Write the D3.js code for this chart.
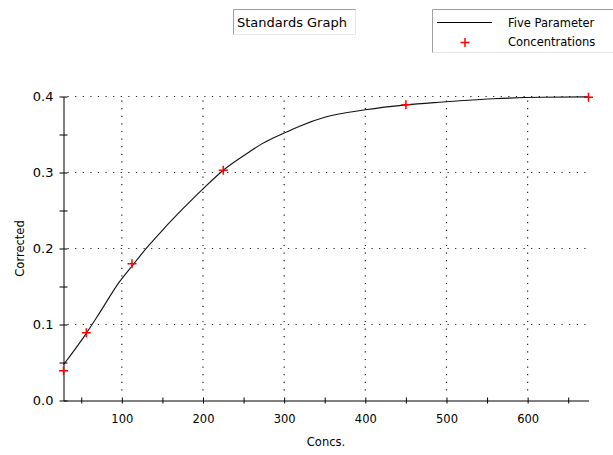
<!DOCTYPE html>
<html>
<head>
<meta charset="utf-8">
<script src="https://cdn.jsdelivr.net/npm/d3@7"></script>
<style>
  body { margin: 0; background: #fff; }
  svg text { font-family: "DejaVu Sans", Verdana, sans-serif; font-size: 11.5px; fill: #000; }
</style>
</head>
<body>
<div id="chart"></div>
<script>
// standards (measured points)
const concs = [28.125, 56.25, 112.5, 225, 450, 675];
const corrected = [0.039, 0.089, 0.180, 0.303, 0.389, 0.399];

// five parameter fit
const fitConcs = [28.125, 56, 73, 97, 112.5, 134, 150, 175, 200, 225, 257, 273, 300, 319, 351, 400, 450, 491, 521, 558, 617, 675];
const fitValues = [0.047, 0.088, 0.116, 0.156, 0.177, 0.205, 0.224, 0.252, 0.2785, 0.303, 0.327, 0.338, 0.352, 0.361, 0.373, 0.3825, 0.389, 0.3925, 0.3947, 0.397, 0.399, 0.3995];

const xMajor = [100, 200, 300, 400, 500, 600];
const xMinor = [50, 100, 150, 200, 250, 300, 350, 400, 450, 500, 550, 600, 650];
const yMajor = [0.0, 0.1, 0.2, 0.3, 0.4];
const yMinor = [0.05, 0.1, 0.15, 0.2, 0.25, 0.3, 0.35, 0.4];

const width = 613, height = 455;
const svg = d3.select("#chart").append("svg")
    .attr("width", width)
    .attr("height", height);

let x = d3.scaleLinear().domain([28.125, 675]).range([63.5, 588.5]);
let y = d3.scaleLinear().domain([0, 0.4]).range([400.5, 96.5]);

// dotted grid
let grid = svg.append("g").attr("stroke", "#222").attr("stroke-width", 1.2)
    .attr("stroke-dasharray", "1.2,6.4");
grid.selectAll("line.h").data(yMajor.slice(1)).enter().append("line")
    .attr("x1", x.range()[0] + 4).attr("x2", x.range()[1])
    .attr("y1", d => y(d)).attr("y2", d => y(d));
grid.selectAll("line.v").data(xMajor).enter().append("line")
    .attr("x1", d => x(d)).attr("x2", d => x(d))
    .attr("y1", y.range()[1] + 4).attr("y2", y.range()[0] - 4);

// x axis
let xAxis = svg.append("g")
    .attr("transform", `translate(0,${y.range()[0]})`)
    .call(d3.axisBottom(x).tickValues(xMinor).tickSize(3).tickSizeOuter(0)
        .tickFormat(d => xMajor.includes(d) ? d : ""));
xAxis.select(".domain").attr("stroke", "#000");
xAxis.selectAll(".tick line").attr("y1", -3).attr("stroke", "#000");
xAxis.selectAll(".tick text").attr("y", 14).attr("dy", "0.71em").style("font-size", "11.5px");

// y axis
let yAxis = svg.append("g")
    .attr("transform", `translate(${x.range()[0]},0)`)
    .call(d3.axisLeft(y).tickValues([0].concat(yMinor)).tickSize(4).tickSizeOuter(0)
        .tickFormat(d => yMajor.some(v => Math.abs(v - d) < 1e-9) ? d3.format(".1f")(d) : ""));
yAxis.select(".domain").attr("stroke", "#000");
yAxis.selectAll(".tick line").attr("x2", 4).attr("x1", -4).attr("stroke", "#000");
yAxis.selectAll(".tick text").attr("x", -10).style("font-size", "13px");

// axis titles
svg.append("text")
    .attr("x", (x.range()[0] + x.range()[1]) / 2)
    .attr("y", 446)
    .attr("text-anchor", "middle")
    .text("Concs.");
svg.append("text")
    .attr("transform", `translate(24,${(y.range()[0] + y.range()[1]) / 2}) rotate(-90)`)
    .attr("text-anchor", "middle")
    .text("Corrected");

// fitted curve
let fitData = fitConcs.map((c, i) => ({ c: c, v: fitValues[i] }));
svg.append("path")
    .datum(fitData)
    .attr("fill", "none")
    .attr("stroke", "#111")
    .attr("stroke-width", 1.1)
    .attr("d", d3.line().x(d => x(d.c)).y(d => y(d.v)).curve(d3.curveMonotoneX));

// standards as red plus marks
let pts = concs.map((c, i) => ({ c: c, v: corrected[i] }));
svg.append("g").selectAll("path").data(pts).enter().append("path")
    .attr("transform", d => `translate(${x(d.c)},${y(d.v)})`)
    .attr("d", "M-4.5,0H4.5M0,-4.5V4.5")
    .attr("stroke", "#ff0000")
    .attr("stroke-width", 1.5)
    .attr("fill", "none");

// boxed title, windows-ish sunken frame
function sunkenBox(x0, y0, w, h) {
    let g = svg.append("g");
    g.append("rect").attr("x", x0).attr("y", y0).attr("width", w).attr("height", h).attr("fill", "#fff");
    g.append("path").attr("d", `M${x0 + 0.5},${y0 + h}V${y0 + 0.5}H${x0 + w}`)
        .attr("stroke", "#a0a0a0").attr("fill", "none");
    g.append("path").attr("d", `M${x0 + 0.5},${y0 + h - 0.5}H${x0 + w - 0.5}V${y0 + 0.5}`)
        .attr("stroke", "#e6e6e6").attr("fill", "none");
    return g;
}
sunkenBox(233, 9, 123, 26);
svg.append("text").attr("x", 237).attr("y", 27)
    .style("font-size", "13px")
    .text("Standards Graph");

// legend
sunkenBox(432, 9, 190, 44);
svg.append("line").attr("x1", 437).attr("x2", 492).attr("y1", 22.5).attr("y2", 22.5)
    .attr("stroke", "#000").attr("stroke-width", 1.2);
svg.append("path").attr("d", "M460.5,42.5H469.5M465,38V47")
    .attr("stroke", "#ff0000").attr("stroke-width", 1.5);
svg.append("text").attr("x", 508).attr("y", 27).text("Five Parameter");
svg.append("text").attr("x", 508).attr("y", 46).text("Concentrations");
</script>
</body>
</html>
